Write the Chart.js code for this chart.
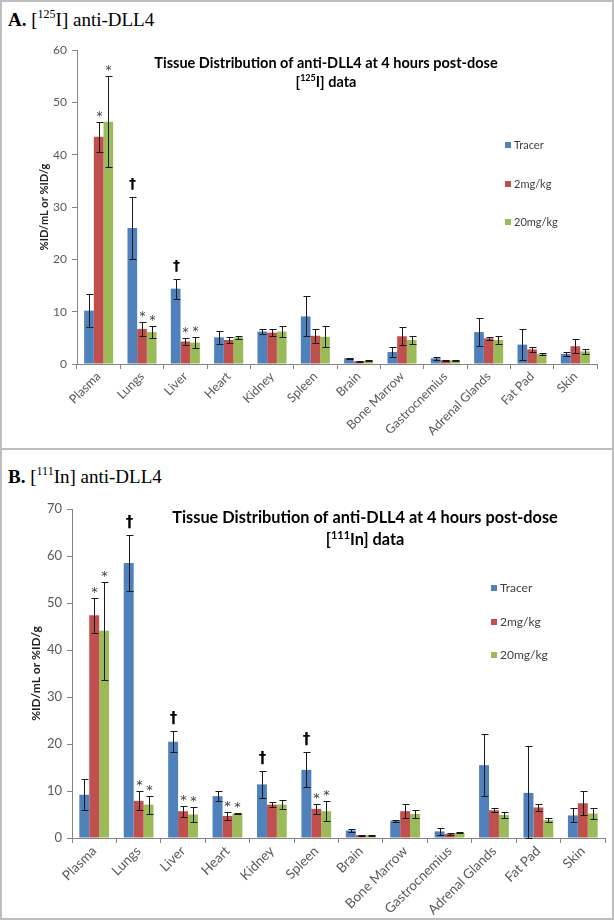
<!DOCTYPE html>
<html><head><meta charset="utf-8">
<script src="https://cdn.jsdelivr.net/npm/chart.js@4.4.1/dist/chart.umd.min.js"></script>
<style>
html,body{margin:0;padding:0;background:#fff;}
body{width:614px;height:920px;position:relative;overflow:hidden;}
.frame{position:absolute;left:0;width:614px;box-sizing:border-box;border:2px solid #bdbdbd;}
.hdr{position:absolute;left:8px;font-family:"Liberation Serif",serif;font-size:19px;line-height:22px;color:#000;white-space:nowrap;}
.hdr sup{font-size:12px;vertical-align:0;position:relative;top:-8px;}
canvas{position:absolute;left:0;}
</style></head>
<body>
<div class="frame" style="top:0;height:450px;"></div>
<div class="frame" style="top:448px;height:472px;"></div>
<div class="hdr" style="top:9px;"><b>A.</b> [<sup>125</sup>I] anti-DLL4</div>
<div class="hdr" style="top:466px;"><b>B.</b> [<sup>111</sup>In] anti-DLL4</div>
<canvas id="cA" width="614" height="447" style="top:0;"></canvas>
<canvas id="cB" width="614" height="472" style="top:448px;"></canvas>
<script>
// ---------- data ----------
const categories = ['Plasma','Lungs','Liver','Heart','Kidney','Spleen','Brain','Bone Marrow','Gastrocnemius','Adrenal Glands','Fat Pad','Skin'];
const seriesNames = ['Tracer','2mg/kg','20mg/kg'];
const yTicksA = [0,10,20,30,40,50,60];
const yTicksB = [0,10,20,30,40,50,60,70];

// Panel A: [125I]
const tracerA    = [10.2,26.0,14.4,5.1,6.2,9.1,1.1,2.3,1.1,6.1,3.7,1.9];
const tracerErrA = [3.2,5.9,1.9,1.3,0.4,3.8,0.1,1.0,0.3,2.7,3.0,0.4];
const mg2A       = [43.4,6.7,4.3,4.6,6.0,5.4,0.5,5.3,0.7,4.9,2.8,3.4];
const mg2ErrA    = [2.9,1.3,0.7,0.6,0.6,1.3,0.1,1.7,0.1,0.3,0.5,1.3];
const mg20A      = [46.3,6.1,4.1,5.1,6.2,5.2,0.6,4.6,0.7,4.6,1.9,2.4];
const mg20ErrA   = [8.7,1.2,1.0,0.3,1.0,2.0,0.1,0.7,0.1,0.8,0.2,0.5];
const tracerSigA = ['','†','†','','','','','','','','',''];
const mg2SigA    = ['*','*','*','','','','','','','','',''];
const mg20SigA   = ['*','*','*','','','','','','','','',''];

// Panel B: [111In]
const tracerB    = [9.2,58.5,20.5,8.9,11.4,14.5,1.6,3.7,1.4,15.5,9.6,4.8];
const tracerErrB = [3.3,6.0,2.3,1.1,2.9,3.7,0.3,0.2,0.7,6.6,10.0,1.5];
const mg2B       = [47.4,7.9,5.7,4.7,7.1,6.2,0.6,5.7,0.9,5.9,6.5,7.4];
const mg2ErrB    = [3.7,2.0,1.2,0.8,0.5,1.0,0.1,1.5,0.2,0.4,0.7,2.6];
const mg20B      = [44.1,7.1,5.0,5.2,7.1,5.7,0.6,5.1,1.1,4.9,3.8,5.2];
const mg20ErrB   = [10.4,1.9,1.5,0.1,1.0,2.1,0.1,0.8,0.1,0.6,0.4,1.1];
const tracerSigB = ['','†','†','','†','†','','','','','',''];
const mg2SigB    = ['*','*','*','*','','*','','','','','',''];
const mg20SigB   = ['*','*','*','*','','*','','','','','',''];

const titleLineA = 'Tissue Distribution of anti-DLL4 at 4 hours post-dose';
const titleIsoA = ['[','125','I] data'];
const titleLineB = 'Tissue Distribution of anti-DLL4 at 4 hours post-dose';
const titleIsoB = ['[','111','In] data'];
const yTitle = '%ID/mL or %ID/g';

// ---------- styling ----------
const COLORS = ['#4F81BD','#C0504D','#9BBB59'];
const FONT = 'Lato, "Open Sans", sans-serif';
const AXIS = '#868686';
const TXT = '#595959';

const annotate = {
  id: 'annotate',
  afterDatasetsDraw(chart, args, o) {
    const ctx = chart.ctx, ys = chart.scales.y, area = chart.chartArea;
    ctx.save();
    chart.data.datasets.forEach((ds, i) => {
      const meta = chart.getDatasetMeta(i);
      meta.data.forEach((bar, j) => {
        const v = ds.data[j], e = ds.errors[j];
        const x = Math.round(bar.x) + 0.5;
        const yt = Math.round(ys.getPixelForValue(v + e)) + 0.5;
        const yb = Math.round(Math.min(ys.getPixelForValue(v - e), area.bottom)) + 0.5;
        ctx.strokeStyle = '#1a1a1a'; ctx.lineWidth = 1;
        ctx.beginPath();
        ctx.moveTo(x, yt); ctx.lineTo(x, yb);
        ctx.moveTo(x - o.cap, yt); ctx.lineTo(x + o.cap + 1, yt);
        ctx.moveTo(x - o.cap, yb); ctx.lineTo(x + o.cap + 1, yb);
        ctx.stroke();
        const s = ds.sig[j];
        if (s === '*') {
          ctx.fillStyle = '#404040'; ctx.font = o.astFont; ctx.textAlign = 'center'; ctx.textBaseline = 'alphabetic';
          ctx.fillText('*', x, yt - o.astGap);
        } else if (s === '†') {
          ctx.fillStyle = '#000'; ctx.font = o.dagFont; ctx.textAlign = 'center'; ctx.textBaseline = 'alphabetic';
          ctx.fillText('†', x, yt - o.dagGap);
        }
      });
    });
    ctx.restore();
  }
};

const overlay = {
  id: 'overlay',
  afterDraw(chart, args, o) {
    const ctx = chart.ctx;
    ctx.save();
    // title
    ctx.fillStyle = '#000'; ctx.textBaseline = 'middle';
    ctx.font = 'bold ' + o.titleSize + 'px ' + FONT; ctx.textAlign = 'center';
    ctx.fillText(o.line1, o.tx, o.ty1);
    const supFont = 'bold ' + Math.round(o.titleSize * 0.65) + 'px ' + FONT;
    ctx.textAlign = 'left';
    const w0 = ctx.measureText(o.iso[0]).width, w2 = ctx.measureText(o.iso[2]).width;
    ctx.font = supFont; const w1 = ctx.measureText(o.iso[1]).width;
    let x = o.tx - (w0 + w1 + w2) / 2;
    ctx.font = 'bold ' + o.titleSize + 'px ' + FONT;
    ctx.fillText(o.iso[0], x, o.ty2); x += w0;
    ctx.font = supFont; ctx.fillText(o.iso[1], x, o.ty2 - o.titleSize * 0.3); x += w1;
    ctx.font = 'bold ' + o.titleSize + 'px ' + FONT; ctx.fillText(o.iso[2], x, o.ty2);
    // legend
    ctx.font = o.legSize + 'px ' + FONT;
    chart.data.datasets.forEach((ds, i) => {
      const y = o.ly[i];
      ctx.fillStyle = ds.backgroundColor;
      ctx.fillRect(o.lx, y - 3, 6, 6);
      ctx.fillStyle = '#404040';
      ctx.fillText(ds.label, o.lx + 9, y);
    });
    ctx.restore();
  }
};

function makeChart(id, vals, errs, sigs, yTicks, cfg) {
  const datasets = seriesNames.map((n, i) => ({
    label: n, data: vals[i], errors: errs[i], sig: sigs[i],
    backgroundColor: COLORS[i], borderWidth: 0,
    barPercentage: 1.0, categoryPercentage: 0.67
  }));
  return new Chart(document.getElementById(id), {
    type: 'bar',
    data: { labels: categories, datasets },
    plugins: [annotate, overlay],
    options: {
      responsive: false, animation: false, devicePixelRatio: 1,
      layout: { padding: { top: cfg.top, right: cfg.right, bottom: 0, left: 0 } },
      plugins: {
        legend: { display: false }, title: { display: false }, tooltip: { enabled: false },
        annotate: { cap: 3, astFont: cfg.astSize + 'px "DejaVu Sans"', dagFont: 'bold ' + cfg.dagSize + 'px "DejaVu Sans"', astGap: cfg.astGap, dagGap: cfg.dagGap },
        overlay: cfg.overlay
      },
      scales: {
        x: {
          grid: { drawOnChartArea: false, drawTicks: true, tickLength: 5, color: AXIS, offset: true },
          border: { color: AXIS },
          ticks: { autoSkip: false, minRotation: 45, maxRotation: 45, color: TXT, font: { family: FONT, size: cfg.xSize }, padding: 0 },
          afterFit: s => { s.height = cfg.xH; }
        },
        y: {
          min: 0, max: yTicks[yTicks.length - 1],
          afterBuildTicks: s => { s.ticks = yTicks.map(v => ({ value: v })); },
          grid: { drawOnChartArea: false, drawTicks: true, tickLength: 5, color: AXIS },
          border: { color: AXIS },
          ticks: { color: TXT, font: { family: FONT, size: cfg.ySize }, padding: 5 },
          title: { display: true, text: yTitle, color: '#222', font: { family: FONT, size: cfg.yTitleSize, weight: 'bold' }, padding: { top: cfg.yTitlePad, bottom: 0 } },
          afterFit: s => { s.width = cfg.yW; }
        }
      }
    }
  });
}

makeChart('cA', [tracerA, mg2A, mg20A], [tracerErrA, mg2ErrA, mg20ErrA], [tracerSigA, mg2SigA, mg20SigA], yTicksA, {
  top: 50, right: 17, xH: 83, yW: 77, xSize: 12.5, ySize: 12, yTitleSize: 11, yTitlePad: 38,
  astSize: 12, dagSize: 14, astGap: 3, dagGap: 10,
  overlay: { line1: titleLineA, iso: titleIsoA, titleSize: 14.5, tx: 326, ty1: 63, ty2: 82, legSize: 11, lx: 505, ly: [145, 184, 222] }
});
makeChart('cB', [tracerB, mg2B, mg20B], [tracerErrB, mg2ErrB, mg20ErrB], [tracerSigB, mg2SigB, mg20SigB], yTicksB, {
  top: 61, right: 9, xH: 82, yW: 72, xSize: 13.5, ySize: 13, yTitleSize: 12, yTitlePad: 29,
  astSize: 13, dagSize: 15, astGap: 3, dagGap: 9,
  overlay: { line1: titleLineB, iso: titleIsoB, titleSize: 16.3, tx: 365, ty1: 70, ty2: 92, legSize: 12, lx: 491, ly: [140, 174, 207] }
});
</script>
</body></html>
